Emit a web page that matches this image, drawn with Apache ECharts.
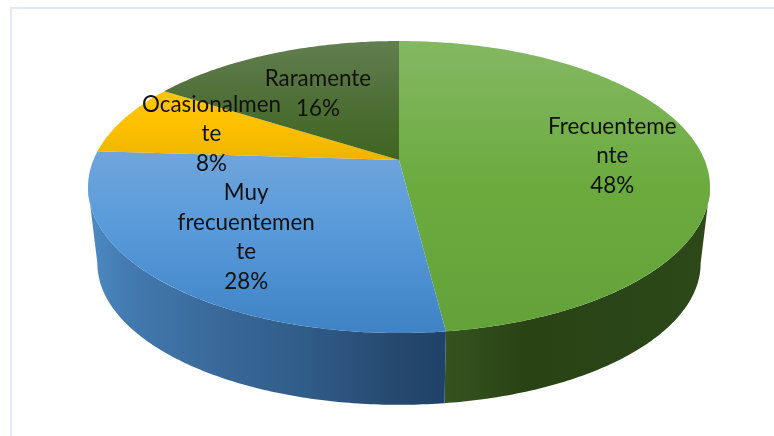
<!DOCTYPE html>
<html>
<head>
<meta charset="utf-8">
<style>html,body{margin:0;padding:0;background:#fff}#c{width:774px;height:436px}</style>
<script src="https://cdn.jsdelivr.net/npm/echarts@6/dist/echarts.min.js"></script>
</head>
<body>
<div id="c"></div>
<script>
var categories = ['Frecuenteme\nnte', 'Muy\nfrecuentemen\nte', 'Ocasionalmen\nte', 'Raramente'];
var values = [48, 28, 8, 16];
var labelRadius = [0.705, 0.665, 0.67, 0.605];

var view = {cx: 399, cy: 160, a: 141, b: 305.6, k: 0.185, wallY: 77, wallScale: 0.97, labelDy: 2};
var total = values.reduce(function (s, v) { return s + v; }, 0);
var G = echarts.graphic.LinearGradient;

function project(theta, r, lower) {
  var X = Math.sin(theta) * r, Y = -Math.cos(theta) * r, s = 1 / (1 - view.k * Y);
  var sc = lower ? view.wallScale : 1;
  return [view.cx + view.b * X * s * sc, view.cy + (lower ? view.wallY : 0) + view.a * Y * s * sc];
}
function sliceAngles(i) {
  var before = 0;
  for (var j = 0; j < i; j++) before += values[j];
  return [before / total * 2 * Math.PI, (before + values[i]) / total * 2 * Math.PI];
}
function rim(a, b, lower) {
  var pts = [], n = Math.max(2, Math.ceil((b - a) / 0.012));
  for (var i = 0; i <= n; i++) pts.push(project(a + (b - a) * i / n, 1, lower));
  return pts;
}
function vgrad(stops) { return new G(0, 41, 0, 333, stops.map(function (s) { return {offset: s[0], color: s[1]}; }), true); }
function hgrad(stops) { return new G(88, 0, 710, 0, stops.map(function (s) { return {offset: s[0], color: s[1]}; }), true); }

var topFills = [
  vgrad([[0, '#84B863'], [0.5, '#6BAB3E'], [1, '#62A239']]),
  vgrad([[0.35, '#72A6DB'], [0.62, '#5A9BDB'], [1, '#3F83C5']]),
  vgrad([[0.2, '#FFC407'], [0.3, '#FDBF00'], [0.42, '#EAB200']]),
  vgrad([[0, '#627F50'], [0.2, '#4F6F37'], [0.42, '#3E651E']])
];
var wallFills = [
  hgrad([[0.57, '#36541F'], [0.7, '#2A4315'], [0.85, '#2A4517'], [1, '#2D4919']]),
  hgrad([[0, '#4E8AC3'], [0.07, '#4279AE'], [0.2, '#3A6A9B'], [0.35, '#305C88'], [0.5, '#26486F'], [0.58, '#1F4268']]),
  '#000', '#000'
];

var frontFrom = Math.PI - Math.acos(view.k), frontTo = Math.PI + Math.acos(view.k);

var option = {
  animation: false,
  backgroundColor: '#fff',
  graphic: [{
    type: 'rect', z: 0, silent: true,
    shape: {x: 11, y: 8, width: 900, height: 600},
    style: {fill: '#fff', stroke: '#E4E9F1', lineWidth: 2}
  }],
  series: [
    {
      type: 'custom', coordinateSystem: 'none', z: 2, data: values, silent: true,
      renderItem: function (params) {
        var ang = sliceAngles(params.dataIndex);
        var a = Math.max(ang[0], frontFrom), b = Math.min(ang[1], frontTo);
        if (b <= a) return {type: 'group', children: []};
        var pts = rim(a, b, false).concat(rim(a, b, true).reverse());
        return {type: 'polygon', shape: {points: pts}, style: {fill: wallFills[params.dataIndex]}};
      }
    },
    {
      type: 'custom', coordinateSystem: 'none', z: 3, data: values, silent: true,
      renderItem: function (params) {
        var ang = sliceAngles(params.dataIndex);
        var pts = [[view.cx, view.cy]].concat(rim(ang[0], ang[1], false));
        return {type: 'polygon', shape: {points: pts}, style: {fill: topFills[params.dataIndex]}};
      }
    },
    {
      type: 'custom', coordinateSystem: 'none', z: 4, data: values, silent: true,
      renderItem: function (params, api) {
        var i = params.dataIndex, ang = sliceAngles(i);
        var p = project((ang[0] + ang[1]) / 2, labelRadius[i], false);
        return {
          type: 'text', x: p[0], y: p[1] + view.labelDy,
          style: {
            text: categories[i] + '\n' + Math.round(api.value(0) / total * 100) + '%',
            fill: '#111', font: '22.4px Lato', align: 'center', verticalAlign: 'middle', lineHeight: 29.5
          }
        };
      }
    }
  ]
};
echarts.init(document.getElementById('c'), null, {renderer: 'canvas'}).setOption(option);
</script>
</body>
</html>
